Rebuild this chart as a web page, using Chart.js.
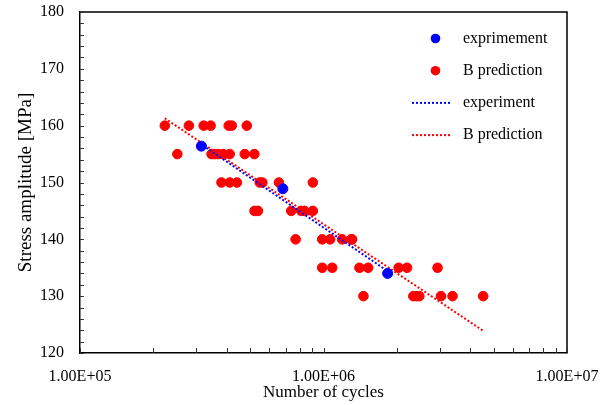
<!DOCTYPE html>
<html>
<head>
<meta charset="utf-8">
<script src="https://cdn.jsdelivr.net/npm/chart.js@4/dist/chart.umd.min.js"></script>
<style>
html,body{margin:0;padding:0;background:#fff;}
#wrap{width:610px;height:405px;}
</style>
</head>
<body>
<div id="wrap"><canvas id="c" width="610" height="405"></canvas></div>
<script>
// ---- data ----
const expCycles = [315000, 681000, 1834000];
const expStress = [156.4, 148.9, 134.0];

const predCycles = [
  223000, 280000, 322000, 344000, 408000, 420000, 484000,
  251000, 347000, 357000, 369000, 387000, 412000, 475000, 520000,
  381000, 412000, 441000, 547000, 561000, 656000, 904000,
  521000, 538000, 737000, 810000, 836000, 904000,
  768000, 988000, 1065000, 1193000, 1299000, 1311000,
  988000, 1086000, 1405000, 1525000, 2035000, 2203000, 2940000,
  1459000, 2338000, 2412000, 2474000, 3037000, 3388000, 4526000
];
const predStress = [
  160, 160, 160, 160, 160, 160, 160,
  155, 155, 155, 155, 155, 155, 155, 155,
  150, 150, 150, 150, 150, 150, 150,
  145, 145, 145, 145, 145, 145,
  140, 140, 140, 140, 140, 140,
  135, 135, 135, 135, 135, 135, 135,
  130, 130, 130, 130, 130, 130, 130
];

const expFitCycles = [310000, 1850000];
const expFitStress = [156.9, 134.3];
const predFitCycles = [223000, 4530000];
const predFitStress = [161.3, 123.9];

const xTickValues = [1e5, 1e6, 1e7];
const xTickLabels = ['1.00E+05', '1.00E+06', '1.00E+07'];
const yTicks = [120, 130, 140, 150, 160, 170, 180];

const seriesLabels = ['exprimement', 'B prediction', 'experiment', 'B prediction'];

const toPts = (xs, ys) => xs.map((x, i) => ({x: x, y: ys[i]}));

const FONT = "'Liberation Serif', 'Times New Roman', serif";

const innerTicks = {
  id: 'innerTicks',
  afterDatasetsDraw(chart) {
    const ctx = chart.ctx, a = chart.chartArea;
    const xs = chart.scales.x, ys = chart.scales.y;
    ctx.save();
    ctx.strokeStyle = '#000';
    ctx.lineWidth = 1.5;
    ctx.beginPath();
    ctx.moveTo(a.left, a.top); ctx.lineTo(a.right, a.top); ctx.lineTo(a.right, a.bottom);
    ctx.stroke();
    ctx.strokeStyle = '#333';
    ctx.lineWidth = 1;
    for (let v = ys.min; v <= ys.max; v += 2) {
      const py = Math.round(ys.getPixelForValue(v)) + 0.5;
      ctx.beginPath(); ctx.moveTo(a.left, py); ctx.lineTo(a.left + 4, py); ctx.stroke();
    }
    for (let d = xs.min; d < xs.max; d *= 10) {
      for (let m = 1; m <= 10; m++) {
        const px = Math.round(xs.getPixelForValue(d * m)) + 0.5;
        ctx.beginPath(); ctx.moveTo(px, a.bottom); ctx.lineTo(px, a.bottom - 5); ctx.stroke();
      }
    }
    ctx.restore();
  }
};

const customLegend = {
  id: 'customLegend',
  afterDraw(chart) {
    const ctx = chart.ctx, a = chart.chartArea;
    const ds = chart.data.datasets;
    const order = [0, 1, 2, 3];
    const textX = a.left + 383;
    const y0 = a.top + 26.5, dy = 32.2;
    ctx.save();
    ctx.font = '16px ' + FONT;
    ctx.textBaseline = 'middle';
    ctx.fillStyle = '#000';
    order.forEach((k, i) => {
      const d = ds[k];
      const y = y0 + i * dy;
      if (d.showLine) {
        ctx.strokeStyle = d.borderColor;
        ctx.lineWidth = 2;
        ctx.setLineDash([2, 2]);
        ctx.beginPath(); ctx.moveTo(textX - 51, y); ctx.lineTo(textX - 11, y); ctx.stroke();
        ctx.setLineDash([]);
      } else {
        ctx.fillStyle = d.backgroundColor;
        ctx.beginPath(); ctx.arc(textX - 27.5, y, 4.8, 0, Math.PI * 2); ctx.fill();
      }
      ctx.fillStyle = '#000';
      ctx.fillText(d.label, textX, y);
    });
    ctx.restore();
  }
};

new Chart(document.getElementById('c'), {
  type: 'scatter',
  data: {
    datasets: [
      { label: seriesLabels[0], data: toPts(expCycles, expStress), backgroundColor: '#0000FF', borderColor: '#0000FF', pointRadius: 5, pointHoverRadius: 5, showLine: false, order: 0 },
      { label: seriesLabels[1], data: toPts(predCycles, predStress), backgroundColor: '#FF0000', borderColor: '#FF0000', pointRadius: 4.8, pointHoverRadius: 4.8, showLine: false, order: 3 },
      { label: seriesLabels[2], data: toPts(expFitCycles, expFitStress), borderColor: '#0000FF', backgroundColor: '#0000FF', showLine: true, pointRadius: 0, borderWidth: 2, borderDash: [2, 2], order: 1 },
      { label: seriesLabels[3], data: toPts(predFitCycles, predFitStress), borderColor: '#FF0000', backgroundColor: '#FF0000', showLine: true, pointRadius: 0, borderWidth: 2, borderDash: [2, 2], order: 2 }
    ]
  },
  options: {
    responsive: false,
    animation: false,
    layout: { padding: { top: 12, right: 43, left: 0, bottom: 0 } },
    plugins: { legend: { display: false }, tooltip: { enabled: false } },
    scales: {
      x: {
        type: 'logarithmic',
        min: 1e5, max: 1e7,
        afterFit(s) { s.height = 52; s.paddingLeft = 0; s.paddingRight = 0; },
        afterBuildTicks(s) { s.ticks = xTickValues.map(v => ({value: v})); },
        grid: { display: true, drawOnChartArea: false, drawTicks: false },
        border: { display: true, color: '#000', width: 1.5 },
        ticks: {
          autoSkip: false, maxRotation: 0, minRotation: 0, padding: 14,
          color: '#000', font: { family: FONT, size: 16 },
          callback: (v) => { const i = xTickValues.indexOf(v); return i >= 0 ? xTickLabels[i] : ''; }
        },
        title: { display: true, text: 'Number of cycles', color: '#000', font: { family: FONT, size: 17 }, padding: { top: 0, bottom: 2 } }
      },
      y: {
        min: 120, max: 180,
        afterFit(s) { s.width = 80; s.paddingTop = 0; s.paddingBottom = 0; },
        afterBuildTicks(s) { s.ticks = yTicks.map(v => ({value: v})); },
        grid: { display: true, drawOnChartArea: false, drawTicks: false },
        border: { display: true, color: '#000', width: 1.5 },
        ticks: { padding: 16, color: '#000', font: { family: FONT, size: 16 } },
        title: { display: true, text: 'Stress amplitude [MPa]', color: '#000', font: { family: FONT, size: 19 }, padding: { top: 15, bottom: 0 } }
      }
    }
  },
  plugins: [innerTicks, customLegend]
});
</script>
</body>
</html>
